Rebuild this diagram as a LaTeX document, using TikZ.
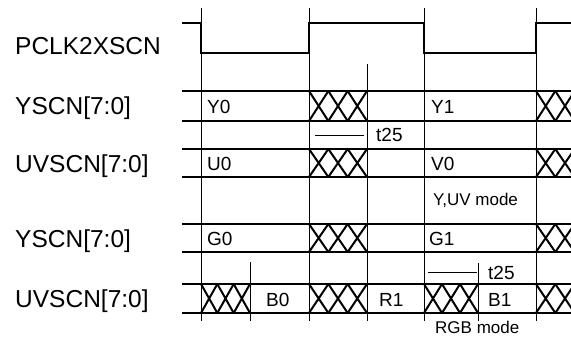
\documentclass[tikz,border=0pt]{standalone}
\usepackage{fontspec}
\setmainfont{Liberation Sans}
\tikzset{
  sig/.style={line width=2.4pt},
  bus/.style={line width=2.4pt},
  grid/.style={line width=0.9pt},
  xline/.style={line width=2pt},
  thin/.style={line width=0.9pt},
  lbl/.style={anchor=base west, inner sep=0pt, font=\fontsize{24.5}{26}\selectfont},
  val/.style={anchor=base west, inner sep=0pt, font=\fontsize{19}{21}\selectfont},
  modelbl/.style={anchor=base west, inner sep=0pt, font=\fontsize{17}{19}\selectfont},
}
\newcommand{\xxxcells}[4]{%
  \pgfmathsetmacro\xw{(#2-#1)/3}%
  \foreach \i in {0,1,2}{%
    \draw[xline] ({#1+\i*\xw},#3) -- ({#1+(\i+1)*\xw},#4)
                 ({#1+\i*\xw},#4) -- ({#1+(\i+1)*\xw},#3);}%
}
\begin{document}
\begin{tikzpicture}[x=1pt,y=-1pt]
\useasboundingbox (0,0) rectangle (571,341);
\clip (0,0) rectangle (571,341);
\fill[white] (0,0) rectangle (571,341);

% left labels
\node[lbl] (l1) at (15,54) {PCLK2XSCN};
\node[lbl] (l2) at (15,114) {YSCN[7:0]};
\node[lbl] (l3) at (15,172) {UVSCN[7:0]};
\node[lbl] (l4) at (15,247) {YSCN[7:0]};
\node[lbl] (l5) at (15,307) {UVSCN[7:0]};

% vertical grid lines
\draw[grid] (201,8) -- (201,321);
\draw[grid] (309,8) -- (309,321);
\draw[grid] (424,8) -- (424,321);
\draw[grid] (536,8) -- (536,321);
\draw[grid] (367,64) -- (367,321);
\draw[grid] (250,262) -- (250,321);
\draw[grid] (478,263) -- (478,321);

% clock
\draw[sig] (182,23) -- (201,23) -- (201,53) -- (309,53) -- (309,23) -- (424,23) -- (424,53) -- (536,53) -- (536,23) -- (575,23);

% bus lines
\foreach \y in {91,121,149,177,224,252,284,313}{
  \draw[bus] (182,\y) -- (575,\y);
}

% crossings
\xxxcells{309}{367}{91}{121}
\xxxcells{536}{594}{91}{121}
\xxxcells{309}{367}{149}{177}
\xxxcells{536}{594}{149}{177}
\xxxcells{309}{367}{224}{252}
\xxxcells{536}{594}{224}{252}
\xxxcells{201}{250}{284}{313}
\xxxcells{309}{367}{284}{313}
\xxxcells{424}{478}{284}{313}
\xxxcells{536}{594}{284}{313}

% values
\node[val] (y0) at (207,113) {Y0};
\node[val] (y1) at (431,113) {Y1};
\node[val] (u0) at (207,170) {U0};
\node[val] (v0) at (431,170) {V0};
\node[val] (g0) at (207,245) {G0};
\node[val] (g1) at (429,245) {G1};
\node[val] (b0) at (266,306) {B0};
\node[val] (r1) at (379,306) {R1};
\node[val] (b1) at (488,306) {B1};

% t25 markers
\coordinate (t1a) at (315,135);
\coordinate (t1b) at (364,135);
\draw[thin] (t1a) -- (t1b);
\node[val] (t1) at (376,141) {t25};
\coordinate (t2a) at (428,272);
\coordinate (t2b) at (477,272);
\draw[thin] (t2a) -- (t2b);
\node[val] (t2) at (488,279) {t25};

% mode labels
\node[modelbl] (m1) at (433,205) {Y,UV mode};
\node[modelbl] (m2) at (435,333) {RGB mode};
\end{tikzpicture}
\end{document}
